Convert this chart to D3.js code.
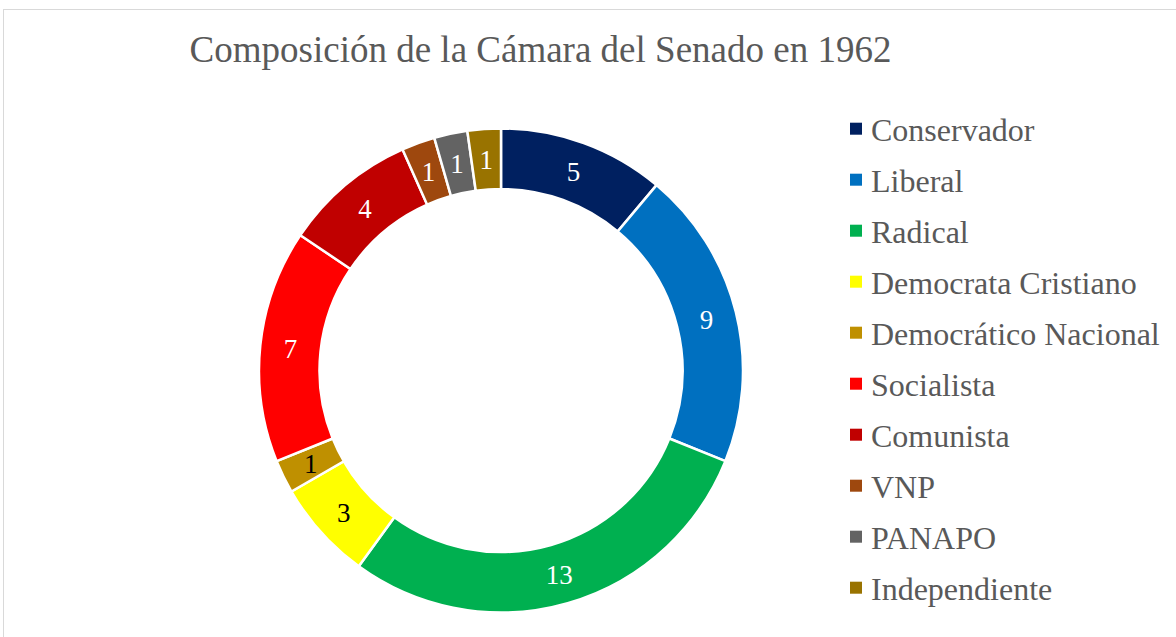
<!DOCTYPE html>
<html>
<head>
<meta charset="utf-8">
<script src="https://cdn.jsdelivr.net/npm/d3@7"></script>
<style>
html,body{margin:0;padding:0;background:#fff;}
svg{display:block;}
</style>
</head>
<body>
<svg id="chart" width="1176" height="637"></svg>
<script>
const categories = ["Conservador","Liberal","Radical","Democrata Cristiano","Democrático Nacional","Socialista","Comunista","VNP","PANAPO","Independiente"];
const seats = [5,9,13,3,1,7,4,1,1,1];
const colors = ["#002060","#0070C0","#00B050","#FFFF00","#BF9000","#FF0000","#C00000","#9E480E","#636363","#997300"];
const labelColors = ["#fff","#fff","#fff","#000","#000","#fff","#fff","#fff","#fff","#fff"];
const title = "Composición de la Cámara del Senado en 1962";

const svg = d3.select("#chart");
const font = "'Liberation Serif','Times New Roman',serif";

// chart border
svg.append("rect").attr("x",3.5).attr("y",9.5).attr("width",1200).attr("height",700)
  .attr("fill","none").attr("stroke","#d9d9d9").attr("stroke-width",1);

svg.append("text").attr("x",540.5).attr("y",62).attr("text-anchor","middle")
  .attr("font-family",font).attr("font-size",37).attr("fill","#595959").text(title);

const cx = 501, cy = 370.5, R = 242, r = 181.5;
const data = categories.map((c,i)=>({cat:c, value:seats[i], color:colors[i], lc:labelColors[i]}));
const pie = d3.pie().value(d=>d.value).sort(null);
const arc = d3.arc().innerRadius(r).outerRadius(R);
const arcs = pie(data);
const g = svg.append("g").attr("transform",`translate(${cx},${cy})`);
g.selectAll("path").data(arcs).join("path")
  .attr("d",arc).attr("fill",d=>d.data.color)
  .attr("stroke","#fff").attr("stroke-width",2.5).attr("stroke-linejoin","miter");
g.selectAll("text").data(arcs).join("text")
  .attr("transform",d=>`translate(${arc.centroid(d)})`)
  .attr("text-anchor","middle").attr("dy","0.35em")
  .attr("font-family",font).attr("font-size",27)
  .attr("fill",d=>d.data.lc).text(d=>d.data.value);

// legend
const leg = svg.append("g");
const rows = leg.selectAll("g").data(data).join("g")
  .attr("transform",(d,i)=>`translate(850,${140.7+51*i})`);
rows.append("rect").attr("x",0).attr("y",-18).attr("width",12).attr("height",12).attr("fill",d=>d.color);
rows.append("text").attr("x",21).attr("y",0).attr("font-family",font).attr("font-size",32)
  .attr("fill","#595959").text(d=>d.cat);
</script>
</body>
</html>
